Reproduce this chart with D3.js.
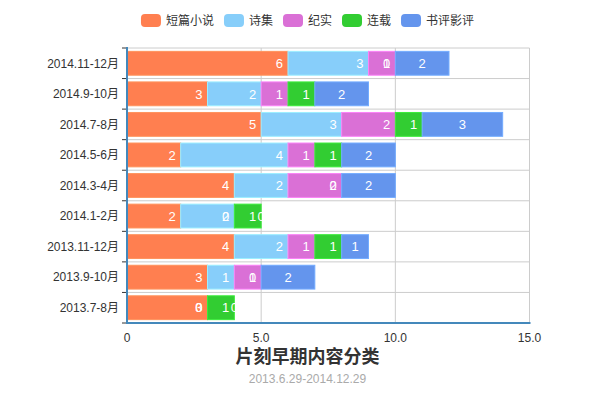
<!DOCTYPE html>
<html>
<head>
<meta charset="utf-8">
<script src="https://cdn.jsdelivr.net/npm/d3@7/dist/d3.min.js"></script>
<style>
    body { margin: 0; background: #fff; }
    text { font-family: "Liberation Sans", Arial, "Noto Sans CJK SC", sans-serif; }
</style>
</head>
<body>
<div id="chart"></div>
<script>
"use strict";

// categories listed bottom to top, like the y axis
var categories = ['2013.7-8月', '2013.9-10月', '2013.11-12月', '2014.1-2月', '2014.3-4月',
    '2014.5-6月', '2014.7-8月', '2014.9-10月', '2014.11-12月'];
var seriesNames = ['短篇小说', '诗集', '纪实', '连载', '书评影评'];
var shortStory = [3, 3, 4, 2, 4, 2, 5, 3, 6];
var poetry = [0, 1, 2, 2, 2, 4, 3, 2, 3];
var documentary = [0, 1, 1, 0, 2, 1, 2, 1, 1];
var serial = [1, 0, 1, 1, 0, 1, 1, 1, 0];
var reviews = [0, 2, 1, 0, 2, 2, 3, 2, 2];
var xTicks = [0, 5, 10, 15];
var colors = ['#ff7f50', '#87cefa', '#da70d6', '#32cd32', '#6495ed'];

var width = 615, height = 393;
var plot = {left: 127, right: 529.5, top: 48, bottom: 323};

var svg = d3.select('#chart').append('svg')
    .attr('width', width)
    .attr('height', height);

var seriesValues = [shortStory, poetry, documentary, serial, reviews];

var rows = categories.map(function (c, i) {
    var row = {cat: c};
    seriesNames.forEach(function (s, j) { row[s] = seriesValues[j][i]; });
    return row;
});

var stacked = d3.stack().keys(seriesNames)(rows);

var x = d3.scaleLinear().domain([0, 15]).range([plot.left, plot.right]);

// bands top to bottom: reverse categories
var yBand = d3.scaleBand()
    .domain(categories.slice().reverse())
    .range([plot.top, plot.bottom]);

var yBar = d3.scaleBand()
    .domain(categories.slice().reverse())
    .range([plot.top, plot.bottom])
    .paddingInner(0.22)
    .paddingOuter(0.11);

// grid
var grid = svg.append('g').attr('class', 'grid');
var boundaries = yBand.domain().map(function (c) { return yBand(c); }).concat([plot.bottom]);
grid.selectAll('line.h')
    .data(boundaries)
    .enter().append('line')
        .attr('x1', plot.left).attr('x2', plot.right)
        .attr('y1', function (d) { return d; })
        .attr('y2', function (d) { return d; })
        .attr('stroke', '#ccc');
grid.selectAll('line.v')
    .data(xTicks.slice(1))
    .enter().append('line')
        .attr('x1', function (d) { return x(d); })
        .attr('x2', function (d) { return x(d); })
        .attr('y1', plot.top).attr('y2', plot.bottom)
        .attr('stroke', '#ccc');

// bars
var layers = svg.selectAll('.layer')
    .data(stacked)
    .enter().append('g')
        .attr('class', 'layer')
        .attr('fill', function (d, i) { return colors[i]; })
        .attr('stroke', function (d, i) { return d3.color(colors[i]).brighter(0.4); });

layers.selectAll('rect')
    .data(function (d) { return d; })
    .enter().append('rect')
        .attr('x', function (d) { return x(d[0]); })
        .attr('y', function (d) { return yBar(d.data.cat); })
        .attr('width', function (d) { return Math.max(0, x(d[1]) - x(d[0])); })
        .attr('height', yBar.bandwidth())
        .attr('stroke-width', function (d) { return d[1] > d[0] ? 1 : 0; });

// labels, drawn after every bar
var labels = svg.append('g').attr('class', 'labels');
stacked.forEach(function (layer, i) {
    var last = i === stacked.length - 1;
    labels.selectAll('text.s' + i)
        .data(layer)
        .enter().append('text')
            .attr('x', function (d) {
                return last ? (x(d[0]) + x(d[1])) / 2 : x(d[1]) - 5;
            })
            .attr('y', function (d) { return yBar(d.data.cat) + yBar.bandwidth() / 2; })
            .attr('dy', '0.36em')
            .attr('text-anchor', last ? 'middle' : 'end')
            .attr('fill', '#fff')
            .style('font-size', '13px')
            .text(function (d) { return d[1] - d[0]; });
});

// y axis
var yAxis = svg.append('g').attr('class', 'axis axis--y');
yAxis.selectAll('line.tick')
    .data(boundaries)
    .enter().append('line')
        .attr('x1', plot.left - 5).attr('x2', plot.left)
        .attr('y1', function (d) { return d; })
        .attr('y2', function (d) { return d; })
        .attr('stroke', '#333');
yAxis.selectAll('text')
    .data(categories)
    .enter().append('text')
        .attr('x', plot.left - 8)
        .attr('y', function (d) { return yBand(d) + yBand.bandwidth() / 2; })
        .attr('dy', '0.36em')
        .attr('text-anchor', 'end')
        .attr('fill', '#333')
        .style('font-size', '12px')
        .text(function (d) { return d; });
yAxis.append('line')
    .attr('x1', plot.left).attr('x2', plot.left)
    .attr('y1', plot.top - 1).attr('y2', plot.bottom + 1)
    .attr('stroke', '#4488bb').attr('stroke-width', 2);

// x axis
var xAxis = svg.append('g').attr('class', 'axis axis--x');
xAxis.append('line')
    .attr('x1', plot.left - 1).attr('x2', plot.right + 1)
    .attr('y1', plot.bottom).attr('y2', plot.bottom)
    .attr('stroke', '#4488bb').attr('stroke-width', 2);
xAxis.selectAll('text')
    .data(xTicks)
    .enter().append('text')
        .attr('x', function (d) { return x(d); })
        .attr('y', plot.bottom + 15)
        .attr('dy', '0.36em')
        .attr('text-anchor', 'middle')
        .attr('fill', '#333')
        .style('font-size', '12px')
        .text(function (d) { return d === 0 ? '0' : d.toFixed(1); });

// legend
var legend = svg.append('g').attr('class', 'legend');
var items = legend.selectAll('g')
    .data(seriesNames)
    .enter().append('g');
items.append('rect')
    .attr('width', 20).attr('height', 13)
    .attr('rx', 4).attr('ry', 4)
    .attr('fill', function (d, i) { return colors[i]; });
items.append('text')
    .attr('x', 25).attr('y', 6.5)
    .attr('dy', '0.36em')
    .attr('fill', '#333')
    .style('font-size', '12px')
    .text(function (d) { return d; });
var offset = 0;
var widths = [];
items.each(function () {
    var w = this.getBBox().width;
    widths.push(w);
});
var total = d3.sum(widths) + 10 * (widths.length - 1);
var start = (width - total) / 2;
items.attr('transform', function (d, i) {
    var tx = start + offset;
    offset += widths[i] + 10;
    return 'translate(' + tx + ',14)';
});

// title
svg.append('text')
    .attr('x', width / 2).attr('y', 357)
    .attr('dy', '0.36em')
    .attr('text-anchor', 'middle')
    .attr('fill', '#333')
    .style('font-size', '18px')
    .style('font-weight', 'bold')
    .text('片刻早期内容分类');
svg.append('text')
    .attr('x', width / 2).attr('y', 379)
    .attr('dy', '0.36em')
    .attr('text-anchor', 'middle')
    .attr('fill', '#aaa')
    .style('font-size', '12px')
    .text('2013.6.29-2014.12.29');
</script>
</body>
</html>
